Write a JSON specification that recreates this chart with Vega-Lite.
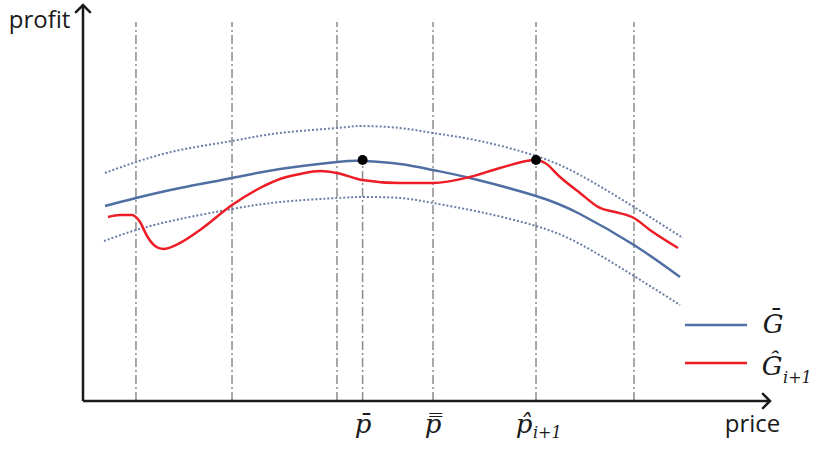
{
  "$schema": "https://vega.github.io/schema/vega-lite/v6.json",
  "width": 687,
  "height": 396,
  "autosize": {"type": "none"},
  "padding": {"left": 83, "top": 5, "right": 47, "bottom": 48},
  "background": "white",
  "config": {"view": {"stroke": null}},
  "datasets": {
    "guides": [
      {"price": 7.71, "profit": 0, "top": 95.7},
      {"price": 21.69, "profit": 0, "top": 95.7},
      {"price": 36.97, "profit": 0, "top": 95.7},
      {"price": 40.7, "profit": 0, "top": 60.86},
      {"price": 50.95, "profit": 0, "top": 95.7},
      {"price": 65.94, "profit": 0, "top": 95.7},
      {"price": 80.2, "profit": 0, "top": 95.7}
    ],
    "curves": [
      {"series": "upper", "price": 3.2, "profit": 57.58},
      {"series": "upper", "price": 7.71, "profit": 60.35},
      {"series": "upper", "price": 14.12, "profit": 63.38},
      {"series": "upper", "price": 21.69, "profit": 65.66},
      {"series": "upper", "price": 28.68, "profit": 67.68},
      {"series": "upper", "price": 36.97, "profit": 68.94},
      {"series": "upper", "price": 40.61, "profit": 69.44},
      {"series": "upper", "price": 46.14, "profit": 68.94},
      {"series": "upper", "price": 50.95, "profit": 67.68},
      {"series": "upper", "price": 57.79, "profit": 65.66},
      {"series": "upper", "price": 65.94, "profit": 61.87},
      {"series": "upper", "price": 72.34, "profit": 57.07},
      {"series": "upper", "price": 80.2, "profit": 48.99},
      {"series": "upper", "price": 87.34, "profit": 41.16},
      {"series": "lower", "price": 3.06, "profit": 40.4},
      {"series": "lower", "price": 7.71, "profit": 43.18},
      {"series": "lower", "price": 14.12, "profit": 45.96},
      {"series": "lower", "price": 21.69, "profit": 48.48},
      {"series": "lower", "price": 28.68, "profit": 50.25},
      {"series": "lower", "price": 36.97, "profit": 51.26},
      {"series": "lower", "price": 40.61, "profit": 51.52},
      {"series": "lower", "price": 46.14, "profit": 51.26},
      {"series": "lower", "price": 50.95, "profit": 50.0},
      {"series": "lower", "price": 57.79, "profit": 47.73},
      {"series": "lower", "price": 65.94, "profit": 44.19},
      {"series": "lower", "price": 72.34, "profit": 39.65},
      {"series": "lower", "price": 80.2, "profit": 31.57},
      {"series": "lower", "price": 86.9, "profit": 24.24},
      {"series": "G", "price": 3.2, "profit": 49.24},
      {"series": "G", "price": 7.71, "profit": 51.26},
      {"series": "G", "price": 14.12, "profit": 53.79},
      {"series": "G", "price": 21.69, "profit": 56.31},
      {"series": "G", "price": 28.68, "profit": 58.59},
      {"series": "G", "price": 36.97, "profit": 60.35},
      {"series": "G", "price": 40.76, "profit": 60.61},
      {"series": "G", "price": 46.14, "profit": 59.85},
      {"series": "G", "price": 50.95, "profit": 58.33},
      {"series": "G", "price": 56.33, "profit": 56.31},
      {"series": "G", "price": 65.94, "profit": 51.77},
      {"series": "G", "price": 72.34, "profit": 47.22},
      {"series": "G", "price": 80.2, "profit": 39.39},
      {"series": "G", "price": 86.9, "profit": 31.31},
      {"series": "Ghat", "price": 3.64, "profit": 46.46},
      {"series": "Ghat", "price": 5.39, "profit": 46.97},
      {"series": "Ghat", "price": 7.13, "profit": 46.97},
      {"series": "Ghat", "price": 8.3, "profit": 45.2},
      {"series": "Ghat", "price": 9.32, "profit": 41.67},
      {"series": "Ghat", "price": 10.48, "profit": 39.14},
      {"series": "Ghat", "price": 11.64, "profit": 38.38},
      {"series": "Ghat", "price": 14.12, "profit": 39.9},
      {"series": "Ghat", "price": 17.03, "profit": 43.18},
      {"series": "Ghat", "price": 21.69, "profit": 49.49},
      {"series": "Ghat", "price": 25.76, "profit": 53.79},
      {"series": "Ghat", "price": 28.68, "profit": 56.06},
      {"series": "Ghat", "price": 31.59, "profit": 57.32},
      {"series": "Ghat", "price": 34.5, "profit": 58.08},
      {"series": "Ghat", "price": 36.97, "profit": 57.58},
      {"series": "Ghat", "price": 40.61, "profit": 55.81},
      {"series": "Ghat", "price": 46.14, "profit": 55.05},
      {"series": "Ghat", "price": 50.95, "profit": 55.05},
      {"series": "Ghat", "price": 56.33, "profit": 56.57},
      {"series": "Ghat", "price": 60.7, "profit": 58.84},
      {"series": "Ghat", "price": 65.94, "profit": 60.86},
      {"series": "Ghat", "price": 67.25, "profit": 60.1},
      {"series": "Ghat", "price": 69.43, "profit": 56.57},
      {"series": "Ghat", "price": 72.34, "profit": 52.53},
      {"series": "Ghat", "price": 75.25, "profit": 48.74},
      {"series": "Ghat", "price": 77.44, "profit": 47.73},
      {"series": "Ghat", "price": 80.2, "profit": 46.21},
      {"series": "Ghat", "price": 82.53, "profit": 43.18},
      {"series": "Ghat", "price": 86.61, "profit": 38.64}
    ],
    "optima": [
      {"price": 40.7, "profit": 60.86},
      {"price": 65.94, "profit": 60.86}
    ],
    "axes": [
      {"price": 0, "profit": 0, "price2": 0, "profit2": 100},
      {"price": 0, "profit": 0, "price2": 100, "profit2": 0}
    ],
    "arrows": [
      {"price": 0, "profit": 100, "dir": "up"},
      {"price": 100, "profit": 0, "dir": "right"}
    ],
    "legend": [
      {"series": "G", "price": 87.63, "price2": 96.65, "profit": 19.19},
      {"series": "Ghat", "price": 87.63, "price2": 96.65, "profit": 9.6}
    ],
    "titles": [
      {"price": -6.33, "profit": 94.2, "text": "profit"},
      {"price": 97.45, "profit": -7.83, "text": "price"}
    ],
    "symbols": [
      {"price": 40.76, "profit": -8.08, "text": "p̄"},
      {"price": 50.95, "profit": -8.08, "text": "p̿"},
      {"price": 64.19, "profit": -8.08, "text": "p̂"},
      {"price": 100.44, "profit": 17.17, "text": "Ḡ"},
      {"price": 100.3, "profit": 6.57, "text": "Ĝ"}
    ],
    "subscripts": [
      {"price": 65.5, "profit": -9.34, "text": "i+1"},
      {"price": 101.9, "profit": 4.55, "text": "i+1"}
    ]
  },
  "encoding": {
    "x": {"field": "price", "type": "quantitative", "scale": {"domain": [0, 100], "nice": false, "zero": false}, "axis": null},
    "y": {"field": "profit", "type": "quantitative", "scale": {"domain": [0, 100], "nice": false, "zero": false}, "axis": null}
  },
  "layer": [
    {
      "data": {"name": "guides"},
      "mark": {"type": "rule", "color": "#8c8c8c", "strokeWidth": 1.5, "strokeDash": [9, 3, 2, 3]},
      "encoding": {"y2": {"field": "top"}}
    },
    {
      "data": {"name": "curves"},
      "transform": [{"filter": "datum.series === 'upper' || datum.series === 'lower'"}],
      "mark": {"type": "line", "interpolate": "natural", "color": "#6a7ea6", "strokeWidth": 2, "strokeDash": [2, 2]},
      "encoding": {"detail": {"field": "series"}}
    },
    {
      "data": {"name": "curves"},
      "transform": [{"filter": "datum.series === 'G'"}],
      "mark": {"type": "line", "interpolate": "natural", "strokeWidth": 2.5, "color": "#4f6fa3"}
    },
    {
      "data": {"name": "curves"},
      "transform": [{"filter": "datum.series === 'Ghat'"}],
      "mark": {"type": "line", "interpolate": "monotone", "strokeWidth": 2.5, "color": "#ee1c25"}
    },
    {
      "data": {"name": "optima"},
      "mark": {"type": "point", "filled": true, "color": "#000000", "opacity": 1, "size": 100}
    },
    {
      "data": {"name": "axes"},
      "mark": {"type": "rule", "color": "#1a1a1a", "strokeWidth": 2.5},
      "encoding": {"x2": {"field": "price2"}, "y2": {"field": "profit2"}}
    },
    {
      "data": {"name": "arrows"},
      "mark": {"type": "point", "filled": false, "color": "#1a1a1a", "strokeWidth": 2.5, "opacity": 1, "size": 200, "strokeCap": "round", "strokeJoin": "miter"},
      "encoding": {
        "shape": {"field": "dir", "type": "nominal", "scale": {"domain": ["up", "right"], "range": ["M-1,1L0,0L1,1", "M-1,-1L0,0L-1,1"]}, "legend": null}
      }
    },
    {
      "data": {"name": "legend"},
      "mark": {"type": "rule", "strokeWidth": 2.5},
      "encoding": {
        "x2": {"field": "price2"},
        "color": {"field": "series", "type": "nominal", "scale": {"domain": ["G", "Ghat"], "range": ["#4f6fa3", "#ee1c25"]}, "legend": null}
      }
    },
    {
      "data": {"name": "titles"},
      "mark": {"type": "text", "font": "Open Sans", "fontSize": 24, "color": "#1a1a1a", "align": "center", "baseline": "alphabetic"},
      "encoding": {"text": {"field": "text"}}
    },
    {
      "data": {"name": "symbols"},
      "mark": {"type": "text", "font": "DejaVu Serif", "fontStyle": "italic", "fontSize": 26, "color": "#1a1a1a", "align": "center", "baseline": "alphabetic"},
      "encoding": {"text": {"field": "text"}}
    },
    {
      "data": {"name": "subscripts"},
      "mark": {"type": "text", "font": "DejaVu Serif", "fontStyle": "italic", "fontSize": 16, "color": "#1a1a1a", "align": "left", "baseline": "alphabetic"},
      "encoding": {"text": {"field": "text"}}
    }
  ]
}
